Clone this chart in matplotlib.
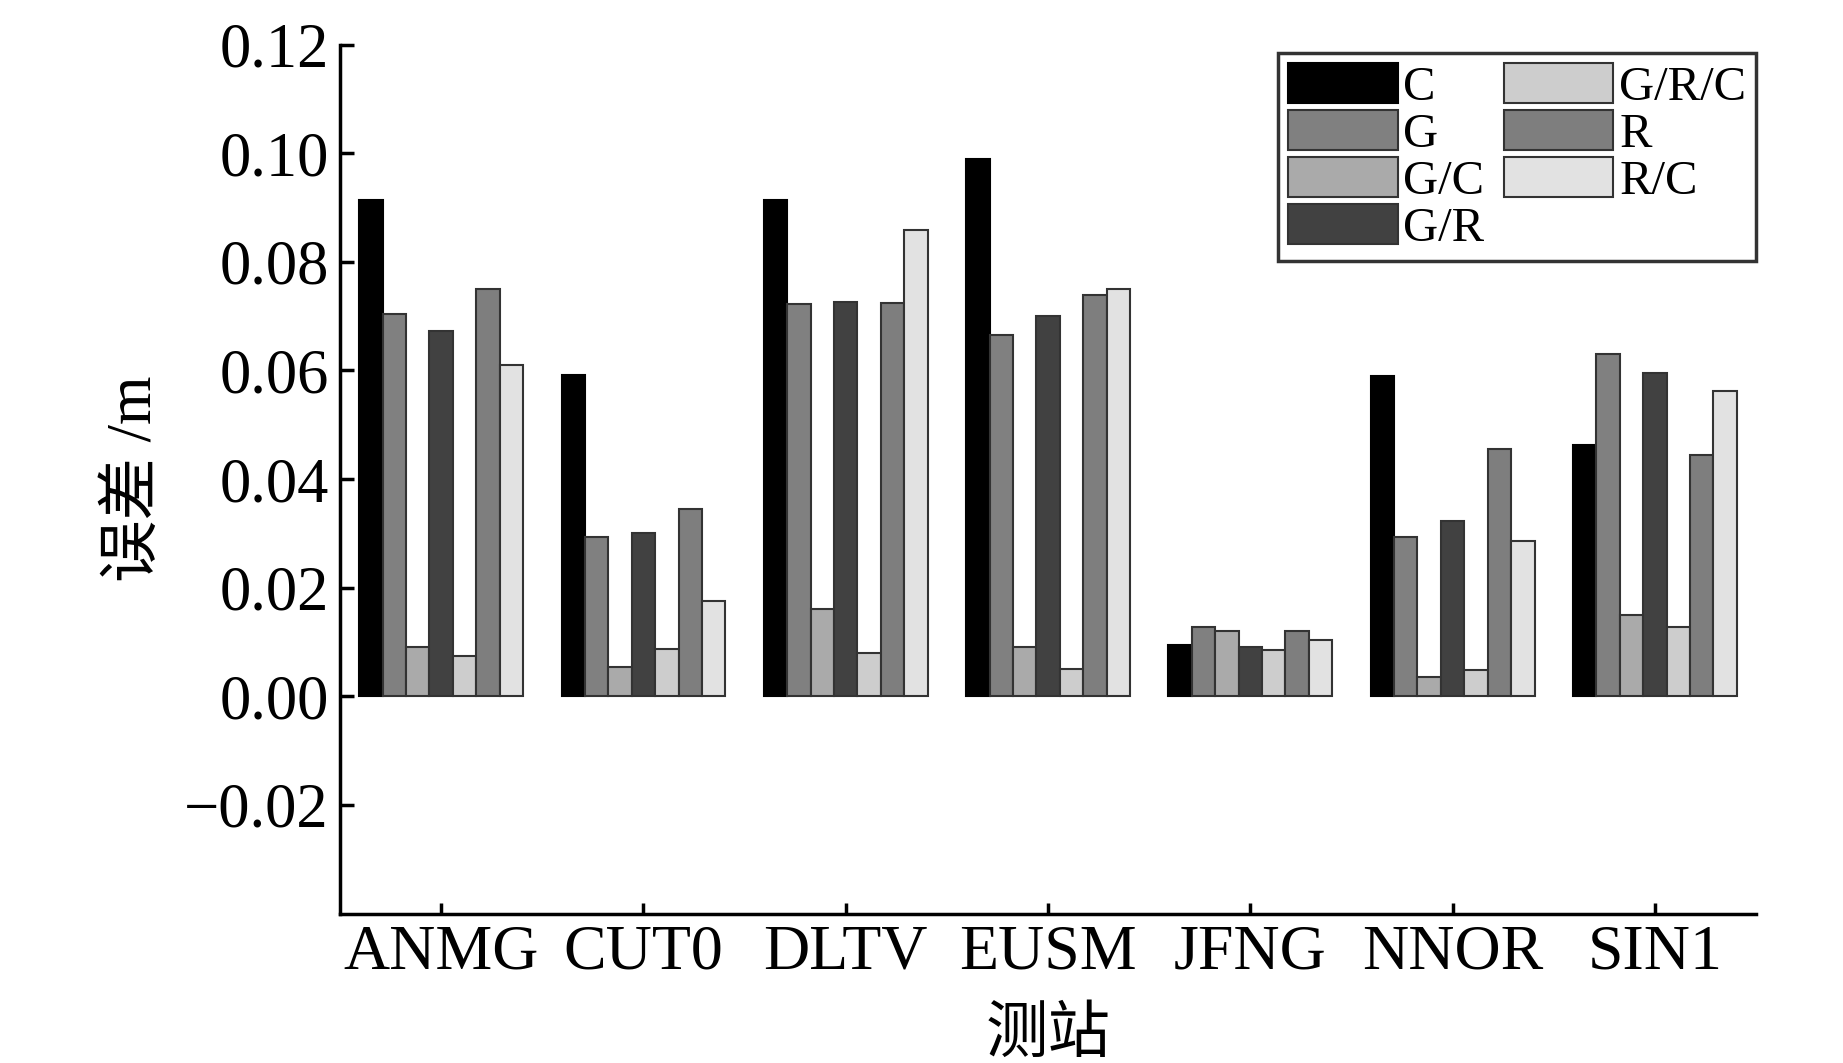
import matplotlib
matplotlib.use("Agg")
import matplotlib.pyplot as plt
import numpy as np

plt.rcParams['font.family'] = ['Liberation Serif', 'Noto Sans CJK SC', 'DejaVu Sans']

stations = ["ANMG", "CUT0", "DLTV", "EUSM", "JFNG", "NNOR", "SIN1"]
series_names = ["C", "G", "G/C", "G/R", "G/R/C", "R", "R/C"]
C_vals     = [0.0914, 0.0592, 0.0914, 0.0990, 0.0095, 0.0589, 0.0462]
G_vals     = [0.0704, 0.0293, 0.0722, 0.0665, 0.0128, 0.0293, 0.0631]
GC_vals    = [0.0091, 0.0054, 0.0160, 0.0091, 0.0121, 0.0035, 0.0150]
GR_vals    = [0.0672, 0.0301, 0.0726, 0.0700, 0.0091, 0.0323, 0.0596]
GRC_vals   = [0.0074, 0.0087, 0.0080, 0.0050, 0.0085, 0.0048, 0.0128]
R_vals     = [0.0750, 0.0345, 0.0724, 0.0739, 0.0121, 0.0455, 0.0444]
RC_vals    = [0.0611, 0.0176, 0.0858, 0.0750, 0.0104, 0.0286, 0.0563]
all_vals = [C_vals, G_vals, GC_vals, GR_vals, GRC_vals, R_vals, RC_vals]
colors = ["#000000", "#808080", "#aaaaaa", "#414141", "#cdcdcd", "#7e7e7e", "#e2e2e2"]
yticks = [-0.02, 0.00, 0.02, 0.04, 0.06, 0.08, 0.10, 0.12]

fig = plt.figure(figsize=(18.43, 10.63), dpi=100)
ax = fig.add_axes([0.1845, 0.1406, 0.7683, 0.8174])

x = np.arange(len(stations))
n = len(series_names)
w = 0.81 / n
for i, (name, vals, col) in enumerate(zip(series_names, all_vals, colors)):
    ax.bar(x + (i - (n - 1) / 2) * w, vals, width=w, color=col,
           edgecolor="#333333" if i != 0 else "#000000", linewidth=1.5, label=name)

ax.set_xlim(-0.5, len(stations) - 0.5)
ax.set_ylim(-0.04, 0.12)
ax.set_yticks(yticks)
ax.set_yticklabels([f"{v:.2f}".replace("-", "\u2212") for v in yticks])
ax.set_xticks(x)
ax.set_xticklabels(stations)
for s in ["top", "right"]:
    ax.spines[s].set_visible(False)
for s in ["left", "bottom"]:
    ax.spines[s].set_linewidth(2.5)
ax.tick_params(axis="y", direction="in", length=10, width=2.5, labelsize=45, pad=8)
ax.tick_params(axis="x", direction="in", length=8, width=2.5, labelsize=46, pad=8)

ax.set_ylabel("误差 /m", fontsize=45, labelpad=14)
ax.set_xlabel("测站", fontsize=45, labelpad=18)

leg = ax.legend(ncol=2, loc="upper right", bbox_to_anchor=(1.0, 0.99),
                borderaxespad=0, fontsize=35, frameon=True, fancybox=False,
                handlelength=2.25, handleheight=0.9, handletextpad=0.12,
                labelspacing=0.0, columnspacing=0.4, borderpad=0.2)
leg.get_frame().set_edgecolor("black")
leg.get_frame().set_linewidth(2.5)

fig.savefig("out.png", dpi=100)
